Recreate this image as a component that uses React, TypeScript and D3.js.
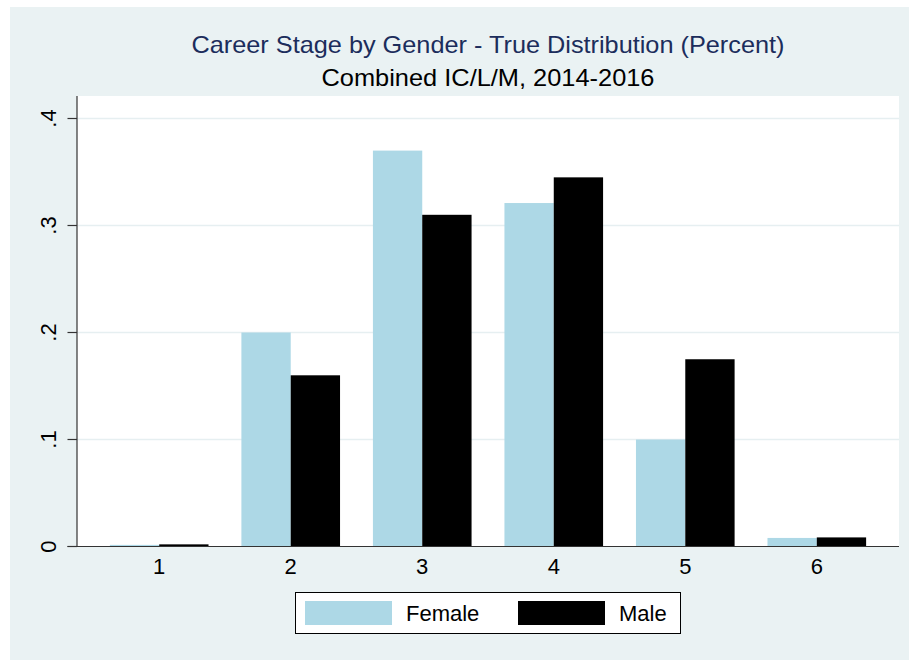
import React, { useEffect, useRef } from 'react';
import * as d3 from 'd3';

// career stage by gender, share of each gender in each stage
const stages = ['1', '2', '3', '4', '5', '6'];
const female = [0.0015, 0.2, 0.37, 0.321, 0.1, 0.008];
const male = [0.002, 0.16, 0.31, 0.345, 0.175, 0.0085];
const yTicks = [0, 0.1, 0.2, 0.3, 0.4];
const yTickLabels = ['0', '.1', '.2', '.3', '.4'];
const seriesNames = ['Female', 'Male'];
const seriesColors = ['#add8e6', '#000000'];

const W = 909;
const H = 660;
const FONT = '"Liberation Sans", Arial, Helvetica, sans-serif';

export default function App() {
  const ref = useRef<SVGSVGElement>(null);

  useEffect(() => {
    drawChart();
  }, []);

  function drawChart() {
    const svg = d3.select(ref.current);
    svg.selectAll('*').remove();

    const plot = { left: 77, right: 899, top: 96, bottom: 546.5 };

    // outer graph region
    svg.append('rect')
      .attr('width', W).attr('height', H)
      .attr('fill', '#ffffff');
    svg.append('rect')
      .attr('x', 10).attr('y', 7)
      .attr('width', W - 10).attr('height', H - 7)
      .attr('fill', '#eaf2f3');

    // plot region
    svg.append('rect')
      .attr('x', plot.left).attr('y', plot.top)
      .attr('width', plot.right - plot.left)
      .attr('height', plot.bottom - plot.top)
      .attr('fill', '#ffffff');

    const x = d3.scaleBand()
      .domain(stages)
      .range([plot.left, plot.right])
      .paddingInner(0.25)
      .paddingOuter(0.25);

    const xs = d3.scaleBand()
      .domain(seriesNames)
      .range([0, x.bandwidth()]);

    const y = d3.scaleLinear()
      .domain([0, 0.4])
      .range([plot.bottom, plot.bottom - 428]);

    // gridlines
    svg.append('g')
      .selectAll('line')
      .data(yTicks.slice(1))
      .enter().append('line')
      .attr('x1', plot.left).attr('x2', plot.right)
      .attr('y1', (d) => y(d)).attr('y2', (d) => y(d))
      .attr('stroke', '#e6eff1')
      .attr('stroke-width', 1.5);

    // bars
    const values = [female, male];
    values.forEach((series, si) => {
      svg.append('g')
        .selectAll('rect')
        .data(series)
        .enter().append('rect')
        .attr('x', (d, i) => (x(stages[i]) as number) + (xs(seriesNames[si]) as number))
        .attr('width', xs.bandwidth())
        .attr('y', (d) => y(d))
        .attr('height', (d) => y(0) - y(d))
        .attr('fill', seriesColors[si]);
    });

    // y axis
    svg.append('line')
      .attr('x1', plot.left).attr('x2', plot.left)
      .attr('y1', plot.top).attr('y2', plot.bottom)
      .attr('stroke', '#333333').attr('stroke-width', 1.2);
    const yAxis = svg.append('g');
    yAxis.selectAll('line')
      .data(yTicks)
      .enter().append('line')
      .attr('x1', 67.5).attr('x2', plot.left)
      .attr('y1', (d) => y(d)).attr('y2', (d) => y(d))
      .attr('stroke', '#333333').attr('stroke-width', 1.2);
    yAxis.selectAll('text')
      .data(yTicks)
      .enter().append('text')
      .attr('transform', (d) => `translate(56,${y(d)}) rotate(-90)`)
      .attr('text-anchor', 'middle')
      .attr('font-family', FONT)
      .attr('font-size', 22)
      .attr('fill', '#000')
      .text((d, i) => yTickLabels[i]);

    // x axis
    svg.append('line')
      .attr('x1', 67.5).attr('x2', plot.right)
      .attr('y1', plot.bottom).attr('y2', plot.bottom)
      .attr('stroke', '#333333').attr('stroke-width', 1.2);
    svg.append('g')
      .selectAll('text')
      .data(stages)
      .enter().append('text')
      .attr('x', (d) => (x(d) as number) + x.bandwidth() / 2)
      .attr('y', 574)
      .attr('text-anchor', 'middle')
      .attr('font-family', FONT)
      .attr('font-size', 22)
      .attr('fill', '#000')
      .text((d) => d);

    // titles
    const cx = (plot.left + plot.right) / 2;
    svg.append('text')
      .attr('x', cx).attr('y', 53)
      .attr('text-anchor', 'middle')
      .attr('font-family', FONT)
      .attr('font-size', 24)
      .attr('textLength', 593)
      .attr('lengthAdjust', 'spacingAndGlyphs')
      .attr('fill', '#1c2d5c')
      .text('Career Stage by Gender - True Distribution (Percent)');
    svg.append('text')
      .attr('x', cx).attr('y', 86)
      .attr('text-anchor', 'middle')
      .attr('font-family', FONT)
      .attr('font-size', 24)
      .attr('textLength', 333)
      .attr('lengthAdjust', 'spacingAndGlyphs')
      .attr('fill', '#000')
      .text('Combined IC/L/M, 2014-2016');

    // legend
    const legend = svg.append('g');
    legend.append('rect')
      .attr('x', 295.5).attr('y', 592.5)
      .attr('width', 385).attr('height', 41)
      .attr('fill', '#ffffff')
      .attr('stroke', '#000').attr('stroke-width', 1);
    const legendX = [305, 518];
    seriesNames.forEach((name, i) => {
      legend.append('rect')
        .attr('x', legendX[i]).attr('y', 601)
        .attr('width', 87).attr('height', 24)
        .attr('fill', seriesColors[i]);
      legend.append('text')
        .attr('x', legendX[i] + 101).attr('y', 621)
        .attr('font-family', FONT)
        .attr('font-size', 22)
        .attr('fill', '#000')
        .text(name);
    });
  }

  return (
    <svg ref={ref} width={W} height={H} style={{ position: 'absolute', left: 0, top: 0 }} />
  );
}
